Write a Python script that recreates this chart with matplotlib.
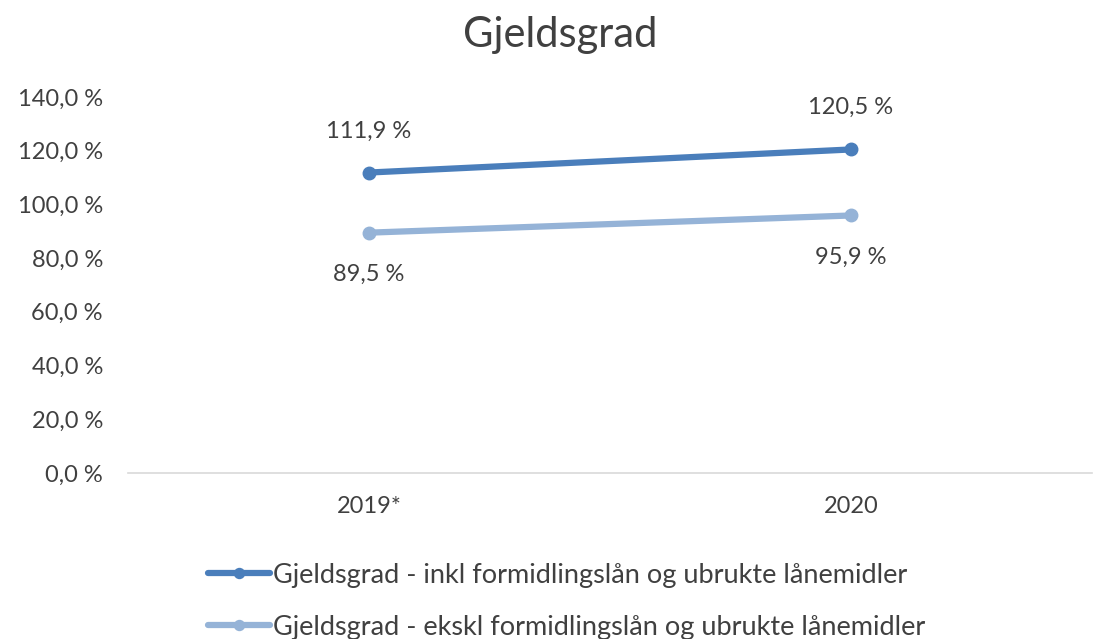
import matplotlib
matplotlib.use("Agg")
import matplotlib.pyplot as plt

plt.rcParams['font.family'] = ['Lato', 'DejaVu Sans']

categories = ["2019*", "2020"]
inkl = [111.9, 120.5]
ekskl = [89.5, 95.9]
yticks = [0, 20, 40, 60, 80, 100, 120, 140]
label_inkl = "Gjeldsgrad - inkl formidlingslån og ubrukte lånemidler"
label_ekskl = "Gjeldsgrad - ekskl formidlingslån og ubrukte lånemidler"
title = "Gjeldsgrad"

c_dark = "#4A7EBB"
c_light = "#95B3D7"
txt = "#404040"
fs = 17

fig = plt.figure(figsize=(10.94, 6.39), dpi=100)
ax = fig.add_axes([0.117, 0.26, 0.881, 0.588])

x = [0.5, 1.5]
ax.plot(x, inkl, color=c_dark, lw=4.5, marker='o', ms=9, label=label_inkl, solid_capstyle='round')
ax.plot(x, ekskl, color=c_light, lw=4.5, marker='o', ms=9, label=label_ekskl, solid_capstyle='round')

def fmt(v):
    return f"{v:.1f}".replace('.', ',') + " %"

for xi, v in zip(x, inkl):
    ax.annotate(fmt(v), (xi, v), xytext=(0, 30), textcoords='offset points',
                ha='center', va='center', fontsize=fs, color=txt)
for xi, v in zip(x, ekskl):
    ax.annotate(fmt(v), (xi, v), xytext=(0, -30), textcoords='offset points',
                ha='center', va='center', fontsize=fs, color=txt)

ax.set_xlim(0, 2)
ax.set_ylim(0, 140)
ax.set_yticks(yticks)
ax.set_yticklabels([fmt(v) for v in yticks], fontsize=fs, color=txt)
ax.set_xticks(x)
ax.set_xticklabels(categories, fontsize=fs, color=txt)
ax.tick_params(axis='y', length=0, pad=18)
ax.tick_params(axis='x', length=0, pad=17)
for s in ['top', 'right', 'left']:
    ax.spines[s].set_visible(False)
ax.spines['bottom'].set_color('#D9D9D9')
ax.spines['bottom'].set_linewidth(1.2)

fig.text(0.512, 0.945, title, ha='center', va='center', fontsize=30, color=txt)

leg = fig.legend(loc='center', bbox_to_anchor=(0.518, 0.059), ncol=1, frameon=False,
                 fontsize=19.5, labelcolor=txt, handlelength=2.3, handletextpad=0.1,
                 labelspacing=1.0, markerscale=0.8)

fig.savefig("out.png", dpi=100, facecolor='white')
